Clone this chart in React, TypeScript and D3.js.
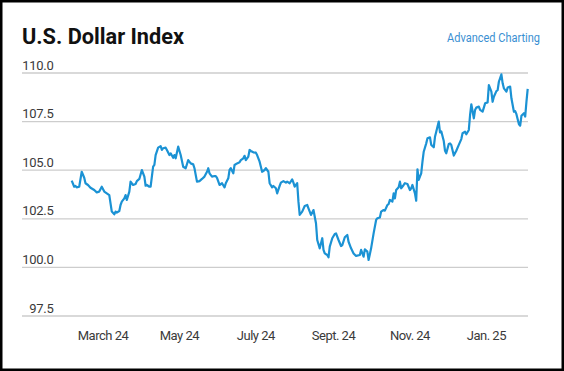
import React, { useEffect, useRef } from 'react';
import * as d3 from 'd3';

// U.S. Dollar Index, daily closes (day offsets from Feb. 5, 2024)
const startDate = new Date(2024, 1, 5);
const endDate = new Date(2025, 1, 3);

const dayOffsets = [
    0, 2, 3, 4, 6, 8, 10, 11, 13, 15, 18, 20, 22, 24, 26, 28, 30, 32, 34, 35,
    36, 38, 39, 40, 42, 43, 44, 46, 47, 49, 51, 52, 54, 56, 58, 59, 60, 62, 63, 65,
    66, 67, 69, 71, 72, 73, 75, 76, 78, 79, 81, 82, 83, 85, 87, 89, 91, 93, 95, 97,
    98, 100, 102, 104, 106, 108, 109, 110, 112, 114, 115, 116, 118, 120, 122, 123, 125, 126, 127, 129,
    130, 132, 134, 135, 137, 138, 139, 141, 142, 143, 145, 147, 148, 150, 152, 154, 155, 157, 158, 160,
    161, 163, 164, 166, 167, 169, 171, 172, 174, 176, 177, 178, 180, 181, 182, 184, 186, 188, 189, 191,
    193, 195, 196, 198, 200, 201, 202, 204, 205, 206, 208, 210, 211, 213, 215, 216, 218, 220, 221, 223,
    225, 227, 230, 231, 233, 234, 236, 237, 239, 241, 243, 244, 246, 247, 249, 250, 252, 253, 254, 256,
    257, 258, 259, 261, 262, 263, 265, 266, 268, 270, 271, 272, 274, 275, 276, 277, 279, 280, 281, 283,
    284, 286, 287, 289, 290, 291, 293, 294, 295, 297, 298, 299, 301, 302, 303, 305, 307, 309, 311, 312,
    314, 315, 317, 318, 319, 321, 322, 323, 325, 326, 328, 329, 330, 332, 333, 335, 336, 337, 339, 340,
    341, 343, 344, 345, 347, 348, 350, 351, 353, 354, 355, 357, 358, 359, 361, 362, 363, 364
];

const indexValues = [
    104.46, 104.15, 104.19, 104.12, 104.15, 104.92, 104.61, 104.33, 104.24, 104.1, 103.98, 103.86, 103.9, 104.15, 103.9, 103.81, 103.72, 102.87, 102.73, 102.87,
    102.82, 102.9, 103.21, 103.38, 103.55, 103.72, 103.47, 103.9, 104.41, 104.24, 104.29, 104.44, 104.55, 105.01, 104.67, 104.2, 104.24, 104.15, 104.15, 105.18,
    105.27, 105.78, 106.16, 106.24, 106.04, 106.13, 106.16, 106.04, 105.78, 105.87, 105.64, 105.78, 105.61, 106.21, 105.78, 105.18, 105.1, 105.52, 105.35, 105.3,
    105.1, 104.41, 104.44, 104.55, 104.67, 104.92, 105.1, 104.84, 104.67, 104.7, 104.7, 104.61, 104.24, 104.33, 104.12, 104.33, 104.58, 105.01, 105.1, 104.84,
    105.27, 105.35, 105.41, 105.52, 105.61, 105.74, 105.52, 105.7, 106.04, 105.99, 105.92, 105.9, 105.78, 105.44, 104.92, 105.01, 105.1, 104.92, 104.33, 104.12,
    104.19, 104.07, 103.81, 104.19, 104.36, 104.44, 104.36, 104.41, 104.33, 104.53, 104.36, 104.15, 104.33, 103.38, 102.7, 102.87, 103.16, 103.21, 103.04, 102.7,
    102.95, 102.27, 101.41, 100.98, 101.5, 100.9, 100.72, 100.64, 100.52, 101.07, 101.5, 101.72, 101.75, 101.41, 101.1, 101.15, 101.55, 101.67, 101.32, 100.98,
    100.72, 100.59, 100.64, 100.9, 100.55, 100.93, 100.81, 100.38, 100.98, 101.75, 102.44, 102.53, 102.57, 102.87, 102.95, 102.92, 103.21, 103.26, 103.47, 103.38,
    103.81, 103.55, 103.98, 104.12, 104.41, 104.07, 104.24, 104.33, 104.29, 103.98, 104.07, 104.24, 103.81, 103.43, 105.05, 104.5, 104.84, 105.44, 105.95, 106.38,
    106.64, 106.69, 106.3, 106.18, 106.72, 106.98, 107.5, 106.95, 107.0, 106.5, 106.0, 105.87, 106.35, 106.38, 106.3, 105.75, 106.0, 106.3, 106.6, 106.9,
    106.98, 106.85, 107.07, 107.84, 108.39, 107.67, 108.1, 108.22, 108.27, 108.1, 108.01, 108.22, 108.44, 108.49, 109.38, 109.04, 108.52, 108.78, 109.07, 109.12,
    109.55, 109.93, 109.47, 109.21, 109.04, 109.25, 109.3, 108.7, 108.01, 108.04, 107.88, 107.36, 107.29, 107.8, 107.93, 107.76, 108.52, 109.18
];

const yTicks = [97.5, 100, 102.5, 105, 107.5, 110];

const monthTicks = [
    new Date(2024, 2, 1), new Date(2024, 4, 1), new Date(2024, 6, 1),
    new Date(2024, 8, 1), new Date(2024, 10, 1), new Date(2025, 0, 1)
];
const monthLabels = ['March 24', 'May 24', 'July 24', 'Sept. 24', 'Nov. 24', 'Jan. 25'];

const width = 564;
const height = 371;

const App = () => {
    const svgRef = useRef<SVGSVGElement>(null);

    useEffect(() => {
        const svg = d3.select(svgRef.current);
        svg.selectAll('*').remove();

        const font = 'Roboto, "Liberation Sans", Arial, sans-serif';

        const gridLeft = 22;
        const gridRight = 528;

        const x = d3.scaleTime()
            .domain([startDate, endDate])
            .range([71.7, 527.7]);

        const y = d3.scaleLinear()
            .domain([97.5, 110])
            .range([316, 73]);

        // frame
        svg.append('rect')
            .attr('x', 1.25).attr('y', 1.25)
            .attr('width', width - 2.5).attr('height', height - 2.5)
            .attr('fill', '#fff')
            .attr('stroke', '#000')
            .attr('stroke-width', 2.5);

        // title
        svg.append('text')
            .attr('x', 22).attr('y', 44)
            .attr('font-family', font)
            .attr('font-weight', 700)
            .attr('font-size', 21.5)
            .attr('textLength', 162)
            .attr('lengthAdjust', 'spacingAndGlyphs')
            .attr('fill', '#111')
            .text('U.S. Dollar Index');

        svg.append('text')
            .attr('x', 540).attr('y', 42)
            .attr('text-anchor', 'end')
            .attr('font-family', font)
            .attr('font-size', 12)
            .attr('textLength', 93)
            .attr('lengthAdjust', 'spacingAndGlyphs')
            .attr('fill', '#3a8fd2')
            .text('Advanced Charting');

        // horizontal grid + labels
        const grid = svg.append('g');
        grid.selectAll('line')
            .data(yTicks)
            .enter().append('line')
            .attr('x1', gridLeft).attr('x2', gridRight)
            .attr('y1', d => y(d)).attr('y2', d => y(d))
            .attr('stroke', '#cdcdcd')
            .attr('stroke-width', 1.3);

        grid.selectAll('text')
            .data(yTicks)
            .enter().append('text')
            .attr('x', 53.5)
            .attr('y', d => y(d) - 3.5)
            .attr('text-anchor', 'end')
            .attr('font-family', font)
            .attr('font-size', 13)
            .attr('letter-spacing', -0.3)
            .attr('fill', '#3a3a3a')
            .text(d => d.toFixed(1));

        // month labels
        svg.append('g')
            .selectAll('text')
            .data(monthTicks)
            .enter().append('text')
            .attr('x', d => x(d))
            .attr('y', 339.5)
            .attr('text-anchor', 'middle')
            .attr('font-family', font)
            .attr('font-size', 13)
            .attr('letter-spacing', -0.5)
            .attr('fill', '#3a3a3a')
            .text((d, i) => monthLabels[i]);

        const points = dayOffsets.map((d, i) => ({
            date: d3.timeDay.offset(startDate, d),
            value: indexValues[i]
        }));

        const line = d3.line<{ date: Date; value: number }>()
            .x(d => x(d.date))
            .y(d => y(d.value));

        svg.append('path')
            .datum(points)
            .attr('d', line)
            .attr('fill', 'none')
            .attr('stroke', '#1b92d4')
            .attr('stroke-width', 2.2)
            .attr('stroke-linejoin', 'round');
    }, []);

    return (
        <svg
            ref={svgRef}
            width={width}
            height={height}
            style={{ position: 'absolute', left: 0, top: 0 }}
        ></svg>
    );
};

export default App;
